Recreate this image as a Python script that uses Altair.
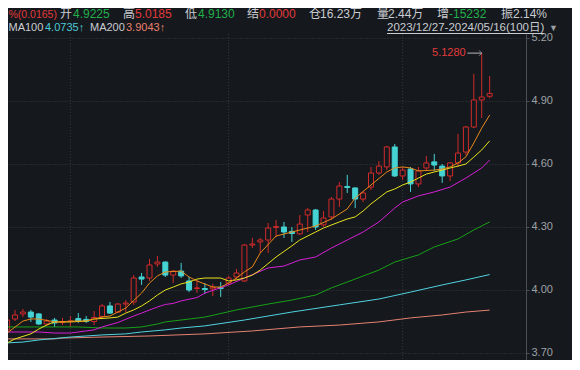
import altair as alt
import pandas as pd

# ---------------- data ----------------
opens = [3.810, 3.862, 3.886, 3.895, 3.886, 3.838, 3.857, 3.845, 3.850, 3.864,
         3.860, 3.850, 3.874, 3.924, 3.895, 3.933, 3.943, 4.062, 4.057, 4.124,
         4.133, 4.071, 4.090, 4.043, 4.007, 4.007, 4.005, 4.012, 4.033, 4.062,
         4.043, 4.214, 4.229, 4.238, 4.298, 4.300, 4.279, 4.267, 4.357, 4.381,
         4.310, 4.348, 4.433, 4.493, 4.486, 4.433, 4.490, 4.557, 4.586, 4.681,
         4.543, 4.576, 4.505, 4.581, 4.610, 4.590, 4.543, 4.605, 4.657, 4.776,
         4.905, 4.9225]
highs = [3.867, 3.905, 3.910, 3.905, 3.890, 3.862, 3.867, 3.867, 3.876, 3.890,
         3.876, 3.900, 3.933, 3.943, 3.938, 3.952, 4.071, 4.081, 4.148, 4.162,
         4.136, 4.095, 4.129, 4.062, 4.048, 4.033, 4.029, 4.038, 4.067, 4.100,
         4.219, 4.248, 4.248, 4.319, 4.333, 4.324, 4.300, 4.357, 4.390, 4.386,
         4.376, 4.443, 4.514, 4.548, 4.488, 4.471, 4.586, 4.614, 4.686, 4.695,
         4.586, 4.586, 4.586, 4.638, 4.648, 4.600, 4.610, 4.743, 4.781, 5.029,
         5.128, 5.0185]
lows = [3.800, 3.852, 3.871, 3.848, 3.833, 3.829, 3.824, 3.833, 3.824, 3.843,
        3.843, 3.833, 3.867, 3.886, 3.890, 3.895, 3.929, 4.024, 4.043, 4.110,
        4.062, 4.033, 4.057, 3.990, 3.986, 3.981, 3.971, 3.967, 4.024, 4.052,
        4.038, 4.200, 4.176, 4.176, 4.252, 4.248, 4.229, 4.262, 4.276, 4.286,
        4.300, 4.333, 4.395, 4.462, 4.390, 4.419, 4.476, 4.548, 4.571, 4.538,
        4.524, 4.467, 4.490, 4.571, 4.567, 4.510, 4.519, 4.586, 4.643, 4.771,
        4.819, 4.913]
closes = [3.857, 3.881, 3.895, 3.871, 3.838, 3.852, 3.843, 3.850, 3.852, 3.850,
          3.850, 3.869, 3.924, 3.890, 3.933, 3.938, 4.057, 4.052, 4.119, 4.133,
          4.071, 4.090, 4.067, 4.000, 4.010, 4.002, 4.014, 4.007, 4.057, 4.081,
          4.214, 4.219, 4.238, 4.295, 4.302, 4.276, 4.269, 4.314, 4.381, 4.300,
          4.343, 4.433, 4.495, 4.488, 4.433, 4.462, 4.557, 4.590, 4.681, 4.543,
          4.571, 4.505, 4.567, 4.605, 4.595, 4.543, 4.605, 4.652, 4.776, 4.905,
          4.919, 4.936]

ma5_idx = [0, 2, 3, 4, 6, 7, 8, 10, 11, 12, 13, 15, 16, 17, 18, 19, 20, 22, 23, 24, 26,
           27, 28, 29, 30, 31, 32, 34, 36, 38, 39, 41, 43, 44, 46, 48, 49, 50, 51, 52, 54,
           55, 56, 57, 58, 59, 60, 61]
ma5_val = [3.795, 3.852, 3.862, 3.862, 3.848, 3.848, 3.852, 3.852, 3.862, 3.871, 3.876,
           3.914, 3.950, 3.985, 4.033, 4.067, 4.086, 4.090, 4.062, 4.043, 4.014,
           4.014, 4.033, 4.057, 4.086, 4.110, 4.176, 4.257, 4.276, 4.295, 4.305,
           4.338, 4.386, 4.438, 4.500, 4.562, 4.581, 4.586, 4.581, 4.567, 4.571,
           4.576, 4.586, 4.605, 4.634, 4.700, 4.771, 4.833]

ma10_idx = [0, 1, 3, 4, 5, 6, 8, 10, 11, 13, 14, 15, 16, 17, 18, 19, 20, 21, 22, 23,
            24, 25, 27, 28, 29, 30, 31, 32, 34, 36, 37, 39, 40, 42, 43, 44, 45, 46, 48, 49,
            50, 51, 52, 53, 54, 55, 56, 57, 58, 59, 60, 61]
ma10_val = [3.748, 3.767, 3.791, 3.814, 3.833, 3.848, 3.848, 3.852, 3.862, 3.867,
            3.871, 3.890, 3.905, 3.924, 3.948, 3.976, 4.000, 4.014, 4.029, 4.038,
            4.052, 4.057, 4.057, 4.043, 4.048, 4.057, 4.071, 4.095, 4.157, 4.210,
            4.238, 4.276, 4.295, 4.324, 4.338, 4.348, 4.376, 4.410, 4.467, 4.481,
            4.500, 4.514, 4.533, 4.552, 4.562, 4.571, 4.581, 4.590, 4.600, 4.633,
            4.667, 4.710]

ma20_idx = [0, 4, 6, 8, 10, 11, 12, 14, 16, 17, 19, 20, 21, 22, 24, 25, 28, 30, 33, 35,
            37, 39, 41, 43, 45, 47, 49, 50, 52, 54, 56, 58, 59, 60, 61]
ma20_val = [3.800, 3.800, 3.795, 3.795, 3.805, 3.810, 3.824, 3.845, 3.876, 3.890,
            3.919, 3.931, 3.936, 3.948, 3.964, 3.985, 4.024, 4.057, 4.105, 4.114,
            4.143, 4.157, 4.200, 4.238, 4.276, 4.324, 4.390, 4.419, 4.448, 4.467,
            4.490, 4.533, 4.557, 4.581, 4.619]

ma60_idx = [0, 3, 6, 9, 12, 15, 17, 19, 20, 22, 25, 29, 33, 36, 39, 41, 43, 47, 49, 52,
            54, 57, 59, 61]
ma60_val = [3.824, 3.824, 3.824, 3.824, 3.819, 3.819, 3.824, 3.838, 3.848, 3.857,
            3.871, 3.905, 3.933, 3.952, 3.976, 4.010, 4.038, 4.095, 4.133, 4.167,
            4.205, 4.243, 4.286, 4.324]

ma100_idx = [0, 2, 4, 8, 12, 15, 17, 20, 22, 25, 30, 36, 42, 47, 51, 55, 58, 61]
ma100_val = [3.748, 3.752, 3.762, 3.776, 3.786, 3.791, 3.800, 3.810, 3.819, 3.829,
             3.857, 3.895, 3.929, 3.957, 3.990, 4.024, 4.048, 4.0735]

ma200_idx = [0, 6, 7, 12, 18, 25, 31, 37, 42, 47, 51, 55, 58, 61]
ma200_val = [3.767, 3.767, 3.771, 3.776, 3.781, 3.791, 3.805, 3.824, 3.833, 3.848,
             3.867, 3.881, 3.895, 3.9043]

month_idx = [8, 28, 50]
y_ticks = [3.70, 4.00, 4.30, 4.60, 4.90, 5.20]

peak_idx = [60]
peak_price = [5.128]
peak_label = ["5.1280"]

# ---------------- style ----------------
BG = "#15181d"
RED = "#d02b2b"
CYAN = "#45d3d3"
GRID = "#363a41"
TXT = "#c9ccd1"
TXT_RED = "#e23b3b"
TXT_GREEN = "#22b04b"
FONT = "Liberation Sans, Noto Sans CJK SC"

PW, PH = 518, 326
xscale = alt.Scale(domain=[0.744, 64.964], nice=False, zero=False)
yscale = alt.Scale(domain=[5.219 - PH / 210.0, 5.219], nice=False, zero=False)

n = len(closes)
candles = pd.DataFrame({"idx": list(range(n)), "open": opens, "high": highs,
                        "low": lows, "close": closes})
candles["dir"] = ["up" if c >= o else "down" for o, c in zip(opens, closes)]

X = alt.X("idx:Q", scale=xscale, axis=None)

yaxis = alt.Axis(orient="right", values=y_ticks, format=".2f", title=None,
                 labelColor="#9ea2a8", labelFont=FONT, labelFontSize=11, labelPadding=2,
                 domainColor="#4c5057", tickColor="#4c5057", tickSize=3,
                 grid=True, gridColor=GRID, gridDash=[1, 2], gridWidth=1)


def Y(field):
    return alt.Y(field, scale=yscale, axis=yaxis)


layers = []

# horizontal grid + price axis
layers.append(alt.Chart(pd.DataFrame({"p": y_ticks})).mark_rule(
    opacity=0).encode(y=Y("p:Q")))

# vertical dotted grid
layers.append(alt.Chart(pd.DataFrame({"idx": month_idx})).mark_rule(
    color=GRID, strokeDash=[1, 2], strokeWidth=1).encode(x=X))

base = alt.Chart(candles)
for d, col in [("up", RED), ("down", CYAN)]:
    layers.append(base.transform_filter(alt.datum.dir == d).mark_rule(
        color=col, strokeWidth=1, clip=True).encode(x=X, y=Y("low:Q"), y2="high:Q"))
for d, col, fill in [("up", RED, BG), ("down", CYAN, CYAN)]:
    layers.append(base.transform_filter(alt.datum.dir == d).mark_bar(
        size=5, fill=fill, stroke=col, strokeWidth=1, clip=True).encode(
        x=X, y=Y("open:Q"), y2="close:Q"))

ma_specs = [
    (ma200_idx, ma200_val, "#e58272"),
    (ma100_idx, ma100_val, "#4fd3e0"),
    (ma60_idx, ma60_val, "#18a018"),
    (ma20_idx, ma20_val, "#d61fd6"),
    (ma10_idx, ma10_val, "#e6e31e"),
    (ma5_idx, ma5_val, "#e8891a"),
]
for ii, vv, col in ma_specs:
    layers.append(alt.Chart(pd.DataFrame({"idx": ii, "value": vv})).mark_line(
        color=col, strokeWidth=1, clip=True).encode(x=X, y=Y("value:Q")))

# peak annotation
peak = pd.DataFrame({"idx": peak_idx, "price": peak_price, "label": peak_label})
pk = alt.Chart(peak)
layers.append(pk.transform_calculate(x0="datum.idx - 1.8").mark_rule(
    color="#b4b6ba", strokeWidth=1).encode(
    x=alt.X("x0:Q", scale=xscale, axis=None), x2="idx:Q", y=Y("price:Q")))
layers.append(pk.mark_point(shape="M-1,-1L0,0L-1,1", size=28, filled=False,
                            color="#b4b6ba", strokeWidth=1).encode(x=X, y=Y("price:Q")))
layers.append(pk.mark_text(align="right", baseline="middle", dx=-16, font=FONT,
                           fontSize=11, color=TXT_RED).encode(
    x=X, y=Y("price:Q"), text="label:N"))


# header texts
def txt(s, x, y, color, size, align="left"):
    return alt.Chart(pd.DataFrame({"t": [s]})).mark_text(
        align=align, baseline="alphabetic", font=FONT, fontSize=size, color=color
    ).encode(text="t:N", x=alt.value(x), y=alt.value(y))


L1 = -16
line1 = [
    ("开", 52, TXT, 12), ("4.9225", 65, TXT_GREEN, 12),
    ("高", 115, TXT, 12), ("5.0185", 127, TXT_RED, 12),
    ("低", 177, TXT, 12), ("4.9130", 190, TXT_GREEN, 12),
    ("结", 239, TXT, 12), ("0.0000", 251, TXT_RED, 12),
    ("仓", 301, TXT, 12), ("16.23万", 312, TXT, 12),
    ("量", 369, TXT, 12), ("2.44万", 380, TXT, 12),
    ("增", 429, TXT, 12), ("-15232", 441, TXT_GREEN, 12),
    ("振", 493, TXT, 12), ("2.14%", 505, TXT, 12),
    ("%(0.0165)", 0.5, TXT_RED, 10.5),
]
for s, x, c, sz in line1:
    layers.append(txt(s, x, L1, c, sz))

L2 = -3
line2 = [
    ("MA100", 0.5, TXT, 11), ("4.0735↑", 37, "#4dc9d6", 11),
    ("MA200", 82, TXT, 11), ("3.9043↑", 118, "#e8806e", 11),
    ("2023/12/27-2024/05/16(100日)", 379, TXT, 11.5),
    ("▼", 541, "#9a9da3", 9),
]
for s, x, c, sz in line2:
    layers.append(txt(s, x, L2, c, sz))

layers.append(alt.Chart(pd.DataFrame({"a": [0]})).mark_rule(color=TXT, strokeWidth=1).encode(
    x=alt.value(379), x2=alt.value(536), y=alt.value(-0.5)))

chart = alt.layer(*layers).properties(
    width=PW, height=PH,
    padding={"left": 0, "top": 26, "right": 46, "bottom": 0},
    autosize=alt.AutoSizeParams(type="none"),
    background=BG,
).configure_view(stroke=None, fill=BG)

chart.save("out.html", embed_options={"renderer": "svg", "actions": False})
